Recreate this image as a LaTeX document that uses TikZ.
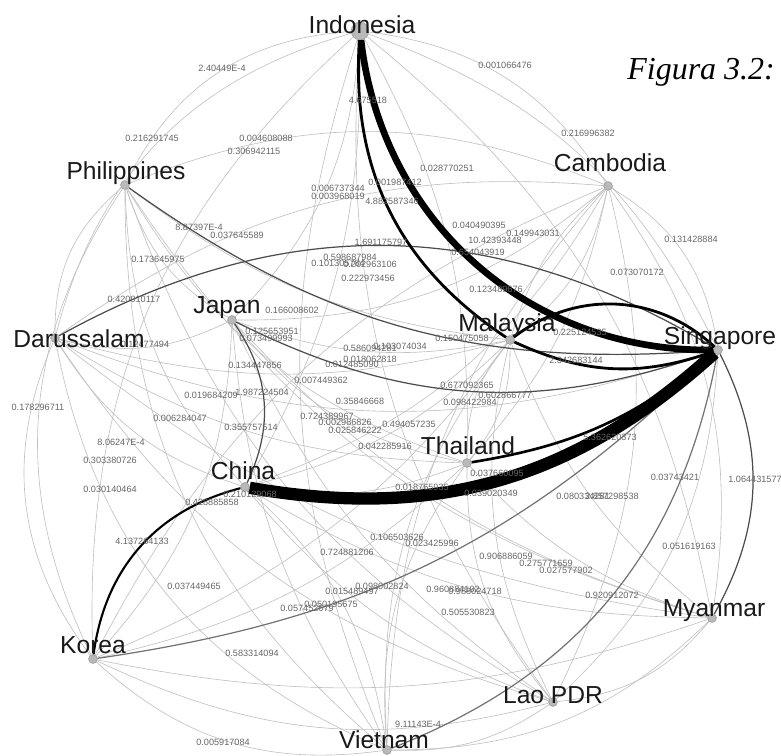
\documentclass[tikz,border=0pt]{standalone}
\usepackage{fontspec}
\newfontfamily\arialfont{Liberation Sans}
\newfontfamily\timesfont{Liberation Serif}

\tikzset{
  dot/.style={circle, fill=gray!55, draw=gray!75, inner sep=0pt, minimum size=5pt},
  city/.style={font=\arialfont\fontsize{14}{14}\selectfont, text=black!90, inner sep=0pt, anchor=base},
  wt/.style={font=\arialfont\fontsize{5.2}{5.2}\selectfont, text=black!60, inner sep=0pt},
  link/.style={draw=gray!50, line width=0.35pt},
  dark/.style={draw=black!70, line width=0.7pt},
  heavy/.style={draw=black, line width=#1}
}

\begin{document}
\begin{tikzpicture}[x=0.02cm, y=-0.02cm]
\useasboundingbox (0,0) rectangle (781,756);

% Define nodes (dots)
\node[dot, minimum size=10pt] (in) at (360,31) {};
\node[dot] (ph) at (125,185) {};
\node[dot] (ca) at (608,186) {};
\node[dot] (da) at (55,338) {};
\node[dot] (ja) at (232,320) {};
\node[dot] (ma) at (510,340) {};
\node[dot] (si) at (718,350) {};
\node[dot] (th) at (467,463) {};
\node[dot] (ch) at (245,487) {};
\node[dot] (ko) at (93,659) {};
\node[dot] (my) at (712,618) {};
\node[dot] (la) at (553,702) {};
\node[dot] (vi) at (387,750) {};

% Draw edges
\draw[link] (ca) to[bend right=25] (in);
\draw[link] (si) to[bend right=25] (ca);
\draw[link] (la) to[bend right=22] (my);
\draw[link] (vi) to[bend right=18] (la);
\draw[link] (ko) to[bend right=25] (vi);
\draw[link] (da) to[bend right=30] (ko);
\draw[link] (ph) to[bend right=25] (da);
\draw[link] (in) to[bend right=30] (ph);
\draw[link] (si) to[bend right=22] (in);
\draw[link] (my) to[bend right=22] (ca);
\draw[link] (la) to[bend right=22] (si);
\draw[link] (vi) to[bend right=22] (my);
\draw[link] (ko) to[bend right=20] (la);
\draw[link] (da) to[bend right=28] (vi);
\draw[link] (ph) to[bend right=30] (ko);
\draw[link] (in) to[bend right=30] (da);
\draw[link] (ca) to[bend right=22] (ph);
\draw[link] (my) to[bend right=20] (in);
\draw[link] (la) to[bend right=20] (ca);
\draw[link] (ko) to[bend right=15] (my);
\draw[link] (da) to[bend right=20] (la);
\draw[link] (ph) to[bend right=25] (vi);
\draw[link] (in) to[bend right=25] (ko);
\draw[link] (ca) to[bend right=20] (da);
\draw[link] (ja) to[bend right=20] (in);
\draw[link] (ph) to[bend right=20] (ja);
\draw[link] (ja) to[bend right=20] (ca);
\draw[link] (da) to[bend right=20] (ja);
\draw[link] (ja) to[bend right=15] (ma);
\draw[link] (ja) to[bend right=20] (th);
\draw[link] (ko) to[bend right=20] (ja);
\draw[link] (ja) to[bend right=15] (vi);
\draw[link] (ja) to[bend right=15] (la);
\draw[link] (ja) to[bend right=15] (my);
\draw[link] (ch) to[bend right=15] (in);
\draw[link] (ph) to[bend right=20] (ch);
\draw[link] (ch) to[bend right=20] (ca);
\draw[link] (da) to[bend right=20] (ch);
\draw[link] (ch) to[bend right=15] (ma);
\draw[link] (ch) to[bend right=15] (th);
\draw[link] (vi) to[bend right=20] (ch);
\draw[link] (ch) to[bend right=15] (la);
\draw[link] (ch) to[bend right=15] (my);
\draw[link] (th) to[bend right=15] (in);
\draw[link] (ph) to[bend right=20] (th);
\draw[link] (th) to[bend right=15] (ca);
\draw[link] (da) to[bend right=15] (th);
\draw[link] (th) to[bend right=20] (ma);
\draw[link] (ma) to[bend right=20] (th);
\draw[link] (ko) to[bend right=15] (th);
\draw[link] (th) to[bend right=20] (vi);
\draw[link] (th) to[bend right=20] (la);
\draw[link] (th) to[bend right=15] (my);
\draw[link] (ph) to[bend right=15] (ma);
\draw[link] (ma) to[bend right=20] (ca);
\draw[link] (ca) to[bend right=15] (ma);
\draw[link] (da) to[bend right=15] (ma);
\draw[link] (ko) to[bend right=15] (ma);
\draw[link] (ma) to[bend right=20] (vi);
\draw[link] (ma) to[bend right=20] (la);
\draw[link] (ma) to[bend right=15] (my);
\draw[link] (in) to[bend right=20] (la);
\draw[link] (in) to[bend right=20] (vi);
\draw[link] (ph) to[bend right=20] (la);
\draw[link] (ph) to[bend right=20] (my);
\draw[link] (ca) to[bend right=20] (ko);
\draw[link] (ca) to[bend right=20] (vi);
\draw[link] (da) to[bend right=15] (my);
\draw[link] (da) to[bend right=20] (si);

% Draw heavier edges
\draw[dark] (si) to[bend right=30] (da);
\draw[dark] (my) to[bend right=28] (si);
\draw[dark] (ch) to[bend right=30] (ja);
\draw[dark] (ja) to[bend right=23] (si);
\draw[dark] (ph) to[bend right=20] (si);
\draw[dark, draw=black!55] (vi) to[bend right=29] (si);
\draw[dark, draw=black!55] (ko) to[bend right=18] (si);
\draw[heavy=1.2pt] (ch) to[bend right=34] (ko);
\draw[heavy=1.6pt] (in) to[bend right=30] (ma);
\draw[heavy=1.6pt] (si) to[bend right=40] (ma);
\draw[heavy=1.6pt] (ma) to[bend right=22] (si);
\draw[heavy=1.5pt] (th) to[bend right=15] (si);
\draw[heavy=3.8pt] (in) to[bend right=42] (si);
\draw[heavy=7pt] (ch) to[bend right=26] (si);

% Add edge weights
\node[wt] (w1) at (222,68) {2.40449E-4};
\node[wt] (w2) at (368,100) {4.675518};
\node[wt] (w3) at (505,65) {0.001066476};
\node[wt] (w4) at (152,138) {0.216291745};
\node[wt] (w5) at (266,138) {0.004608088};
\node[wt] (w6) at (254,151) {0.306942115};
\node[wt] (w7) at (588,133) {0.216996382};
\node[wt] (w8) at (338,188) {0.006737344};
\node[wt] (w9) at (338,196) {0.003968019};
\node[wt] (w10) at (395,182) {0.001987412};
\node[wt] (w11) at (392,201) {4.882587346};
\node[wt] (w12) at (447,168) {0.028770251};
\node[wt] (w13) at (199,227) {8.87397E-4};
\node[wt] (w14) at (237,235) {0.037645589};
\node[wt] (w15) at (158,259) {0.173645975};
\node[wt] (w16) at (134,299) {0.420910117};
\node[wt] (w17) at (292,310) {0.166008602};
\node[wt] (w18) at (145,344) {0.12477494};
\node[wt] (w19) at (272,331) {0.125653951};
\node[wt] (w20) at (266,338) {0.073499993};
\node[wt] (w21) at (255,365) {0.134447856};
\node[wt] (w22) at (370,348) {0.586094281};
\node[wt] (w23) at (400,346) {0.103074034};
\node[wt] (w24) at (352,364) {0.012485090};
\node[wt] (w25) at (370,359) {0.018062818};
\node[wt] (w26) at (321,380) {0.007449362};
\node[wt] (w27) at (360,401) {0.35846668};
\node[wt] (w28) at (327,416) {0.724389967};
\node[wt] (w29) at (345,422) {0.002986826};
\node[wt] (w30) at (355,430) {0.025846222};
\node[wt] (w31) at (409,424) {0.494057235};
\node[wt] (w32) at (251,427) {0.355757514};
\node[wt] (w33) at (262,392) {1.987224504};
\node[wt] (w34) at (211,395) {0.019684209};
\node[wt] (w35) at (180,418) {0.006284047};
\node[wt] (w36) at (38,407) {0.178296711};
\node[wt] (w37) at (121,442) {8.06247E-4};
\node[wt] (w38) at (110,460) {0.303380726};
\node[wt] (w39) at (110,489) {0.030140464};
\node[wt] (w40) at (212,502) {0.428885858};
\node[wt] (w41) at (250,494) {0.210129068};
\node[wt] (w42) at (142,541) {4.137264133};
\node[wt] (w43) at (347,552) {0.724881206};
\node[wt] (w44) at (385,446) {0.042285916};
\node[wt] (w45) at (397,537) {0.106503626};
\node[wt] (w46) at (432,543) {0.023425996};
\node[wt] (w47) at (352,591) {0.015489497};
\node[wt] (w48) at (382,586) {0.098002824};
\node[wt] (w49) at (307,608) {0.057452679};
\node[wt] (w50) at (331,604) {0.050195675};
\node[wt] (w51) at (194,586) {0.037449465};
\node[wt] (w52) at (252,653) {0.583314094};
\node[wt] (w53) at (223,742) {0.005917084};
\node[wt] (w54) at (453,589) {0.960884102};
\node[wt] (w55) at (475,591) {0.988024718};
\node[wt] (w56) at (468,612) {0.505530823};
\node[wt] (w57) at (612,595) {0.920912072};
\node[wt] (w58) at (418,724) {9.11143E-4};
\node[wt] (w59) at (467,385) {0.677092365};
\node[wt] (w60) at (505,395) {0.602866777};
\node[wt] (w61) at (470,402) {0.098422984};
\node[wt] (w62) at (610,437) {5.362620373};
\node[wt] (w63) at (497,473) {0.037660095};
\node[wt] (w64) at (491,493) {0.039020349};
\node[wt] (w65) at (422,487) {0.018765935};
\node[wt] (w66) at (583,496) {0.080334281};
\node[wt] (w67) at (612,496) {2.857298538};
\node[wt] (w68) at (675,477) {0.03743421};
\node[wt] (w69) at (755,479) {1.064431577};
\node[wt] (w70) at (689,546) {0.051619163};
\node[wt] (w71) at (506,556) {0.906886059};
\node[wt] (w72) at (546,563) {0.275771659};
\node[wt] (w73) at (566,570) {0.027577902};
\node[wt] (w74) at (533,233) {0.149943031};
\node[wt] (w75) at (479,225) {0.040490395};
\node[wt] (w76) at (495,240) {10.42393448};
\node[wt] (w77) at (478,252) {0.654043919};
\node[wt] (w78) at (381,242) {1.691175797};
\node[wt] (w79) at (691,239) {0.131428884};
\node[wt] (w80) at (637,272) {0.073070172};
\node[wt] (w81) at (496,289) {0.123489676};
\node[wt] (w82) at (462,338) {0.150475058};
\node[wt] (w83) at (580,332) {0.225124535};
\node[wt] (w84) at (576,360) {2.342683144};
\node[wt] (w85) at (350,257) {0.598687984};
\node[wt] (w86) at (338,263) {0.101305784};
\node[wt] (w87) at (370,264) {0.202963106};
\node[wt] (w88) at (368,278) {0.222973456};

% Add country names
\node[city] (inT) at (362,34) {Indonesia};
\node[city] (phT) at (126,180) {Philippines};
\node[city] (caT) at (610,172) {Cambodia};
\node[city] (daT) at (79,348) {Darussalam};
\node[city] (jaT) at (227,314) {Japan};
\node[city] (maT) at (507,332) {Malaysia};
\node[city] (siT) at (720,345) {Singapore};
\node[city] (thT) at (468,455) {Thailand};
\node[city] (chT) at (243,480) {China};
\node[city] (koT) at (93,653) {Korea};
\node[city] (myT) at (714,617) {Myanmar};
\node[city] (laT) at (553,703) {Lao PDR};
\node[city] (viT) at (384,748) {Vietnam};

\node[anchor=base west, inner sep=0pt, font=\timesfont\itshape\fontsize{18.2}{19}\selectfont] (fig) at (627,80) {Figura 3.2:};
\end{tikzpicture}
\end{document}
